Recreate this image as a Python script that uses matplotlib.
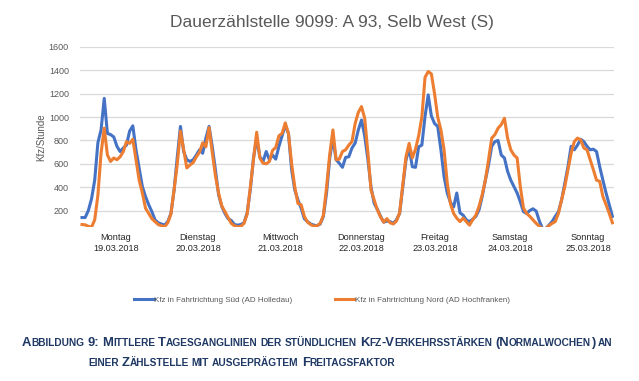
import re
import matplotlib
matplotlib.use("Agg")
import matplotlib.pyplot as plt
from matplotlib.transforms import IdentityTransform, blended_transform_factory
from matplotlib.lines import Line2D

plt.rcParams['font.family'] = ['Liberation Sans', 'DejaVu Sans']

# hourly values, 7 days x 24 h
sued = [
    140, 140, 200, 300, 460, 780, 890, 1160, 860, 850, 830, 750, 705, 735, 760, 880, 925, 720, 560, 405, 320, 250, 190, 120,
    95, 85, 75, 105, 175, 375, 660, 920, 705, 635, 620, 635, 675, 720, 690, 820, 920, 750, 550, 335, 235, 175, 130, 115,
    80, 75, 80, 95, 180, 380, 650, 820, 660, 620, 705, 635, 675, 640, 750, 840, 930, 860, 550, 375, 290, 220, 130, 105,
    85, 75, 70, 85, 150, 350, 650, 820, 635, 605, 570, 655, 660, 735, 777, 890, 975, 840, 640, 400, 260, 210, 150, 100,
    110, 105, 90, 120, 175, 405, 630, 735, 575, 570, 745, 760, 1005, 1190, 1010, 945, 920, 720, 490, 350, 270, 230, 350, 180,
    160, 120, 105, 125, 150, 205, 320, 460, 590, 750, 790, 800, 675, 650, 535, 460, 405, 350, 275, 190, 175, 200, 215, 195,
    110, 45, 45, 75, 105, 150, 190, 290, 435, 575, 750, 720, 760, 810, 790, 750, 720, 725, 705, 575, 460, 350, 250, 150,
]
nord = [
    80, 78, 65, 58, 120, 330, 690, 905, 676, 620, 650, 635, 660, 705, 790, 775, 810, 635, 460, 350, 220, 175, 130, 105,
    80, 70, 60, 95, 170, 380, 600, 880, 720, 565, 590, 610, 660, 700, 780, 745, 910, 700, 500, 350, 240, 190, 140, 90,
    70, 60, 65, 90, 170, 400, 640, 870, 650, 605, 600, 620, 715, 740, 840, 860, 950, 860, 600, 400, 260, 250, 150, 100,
    80, 65, 70, 90, 160, 400, 680, 890, 635, 640, 705, 720, 760, 790, 945, 1040, 1090, 990, 700, 375, 290, 205, 145, 100,
    130, 95, 85, 110, 180, 420, 660, 775, 650, 725, 840, 1000, 1340, 1390, 1370, 1200, 1000, 890, 720, 435, 260, 175, 135, 105,
    135, 105, 75, 120, 160, 235, 335, 460, 635, 820, 850, 905, 935, 990, 820, 720, 675, 650, 405, 220, 175, 150, 120, 90,
    65, 45, 45, 70, 90, 105, 175, 290, 405, 550, 690, 790, 820, 805, 735, 720, 635, 550, 460, 450, 320, 250, 175, 95,
]
days = ["Montag", "Dienstag", "Mittwoch", "Donnerstag", "Freitag", "Samstag", "Sonntag"]
dates = ["19.03.2018", "20.03.2018", "21.03.2018", "22.03.2018", "23.03.2018", "24.03.2018", "25.03.2018"]
day_label_hour = [10.7, 36.5, 62.6, 87.8, 111.1, 134.7, 159.3]
yticks = [200, 400, 600, 800, 1000, 1200, 1400, 1600]

title = "Dauerzählstelle 9099: A 93, Selb West (S)"
label_sued = "Kfz in Fahrtrichtung Süd (AD Holledau)"
label_nord = "Kfz in Fahrtrichtung Nord (AD Hochfranken)"
caption = ["Abbildung 9: Mittlere Tagesganglinien der stündlichen Kfz-Verkehrsstärken (Normalwochen) an",
           "einer Zählstelle mit ausgeprägtem Freitagsfaktor"]

blue = "#4472C4"
orange = "#ED7D31"
grey = "#595959"
navy = "#1F3864"

W, H = 639, 381
fig = plt.figure(figsize=(W / 100, H / 100), dpi=100)
ax = fig.add_axes([80 / W, 1 - 227 / H, 534 / W, 180 / H])

hours = list(range(len(sued)))
ax.plot(hours, sued, color=blue, lw=2.2, solid_joinstyle='round')
ax.plot(hours, nord, color=orange, lw=2.2, solid_joinstyle='round')

ax.set_xlim(-0.63, 167.5)
ax.set_ylim(59, 1600)
ax.set_yticks(yticks)
ax.tick_params(axis='y', length=0, labelsize=6.5, labelcolor=grey, pad=8)
ax.set_xticks([])
ax.grid(axis='y', color='#D9D9D9', lw=0.9)
ax.set_axisbelow(True)
for s in ax.spines.values():
    s.set_visible(False)
ax.set_ylabel("Kfz/Stunde", fontsize=7, color=grey, labelpad=2)

tr = blended_transform_factory(ax.transData, ax.transAxes)
for h, d, dt in zip(day_label_hour, days, dates):
    ax.text(h, -0.035, d + "\n" + dt, transform=tr, ha='center', va='top',
            fontsize=6.6, color='#262626', linespacing=1.25)

fig.text(332 / W, 1 - 23 / H, title, ha='center', va='center', fontsize=12.5, color=grey)

handles = [Line2D([], [], color=blue, lw=2.2), Line2D([], [], color=orange, lw=2.2)]
fig.legend(handles, [label_sued, label_nord], loc='center', bbox_to_anchor=(322 / W, 1 - 300 / H),
           ncol=2, frameon=False, fontsize=5.8, handlelength=2.4, handletextpad=0.1,
           columnspacing=5.2, labelcolor=grey)

# caption in small caps, drawn run by run
renderer = fig.canvas.get_renderer()


def smallcaps(x, y, line, big=9.4, small=7.3):
    for word in line.split(" "):
        for run in re.findall(r"[a-zäöüß]+|[^a-zäöüß]+", word):
            low = run[0].islower()
            t = fig.text(x, y, run.upper(), transform=IdentityTransform(), va='baseline',
                         fontsize=small if low else big, fontweight='bold', color=navy,
                         family=['Liberation Sans Narrow', 'Liberation Sans'])
            x += t.get_window_extent(renderer).width
        x += 3


smallcaps(22, 35, caption[0])
smallcaps(88, 15, caption[1])

fig.savefig("out.png", dpi=100)
